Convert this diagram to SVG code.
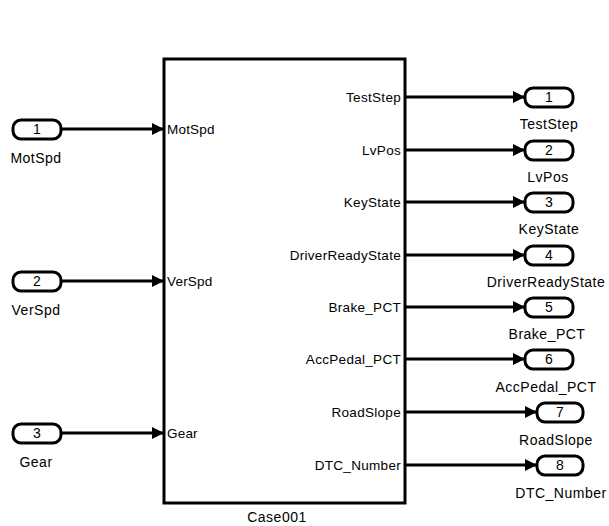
<svg xmlns="http://www.w3.org/2000/svg" width="609" height="526" viewBox="0 0 609 526">
<style>
text{font-family:"Liberation Sans",Arial,sans-serif;font-size:14px;fill:#000}
.port{fill:#fff;stroke:#000;stroke-width:3}
.blk{fill:#fff;stroke:#000;stroke-width:3}
.num{text-anchor:middle}
.lab{text-anchor:middle;letter-spacing:0.5px}
.in{text-anchor:start;font-size:13.5px;letter-spacing:0.2px}
.out{text-anchor:end;font-size:13.5px;letter-spacing:0.3px}
.wire{stroke:#000;stroke-width:3;fill:none}
</style>
<defs>
<marker id="ah" markerWidth="12" markerHeight="12" refX="11" refY="6" orient="auto" markerUnits="userSpaceOnUse">
<path d="M0,0 L12,6 L0,12 Z" fill="#000"/>
</marker>
</defs>
<rect width="609" height="526" fill="#fff"/>
<g id="connectors">
<line class="wire" x1="61" y1="129" x2="163" y2="129" marker-end="url(#ah)"/>
<line class="wire" x1="61" y1="281" x2="163" y2="281" marker-end="url(#ah)"/>
<line class="wire" x1="61" y1="433" x2="163" y2="433" marker-end="url(#ah)"/>
<line class="wire" x1="406" y1="97" x2="524" y2="97" marker-end="url(#ah)"/>
<line class="wire" x1="406" y1="150" x2="524" y2="150" marker-end="url(#ah)"/>
<line class="wire" x1="406" y1="202" x2="524" y2="202" marker-end="url(#ah)"/>
<line class="wire" x1="406" y1="255" x2="524" y2="255" marker-end="url(#ah)"/>
<line class="wire" x1="406" y1="307" x2="524" y2="307" marker-end="url(#ah)"/>
<line class="wire" x1="406" y1="359" x2="524" y2="359" marker-end="url(#ah)"/>
<line class="wire" x1="406" y1="412" x2="536" y2="412" marker-end="url(#ah)"/>
<line class="wire" x1="406" y1="465" x2="536" y2="465" marker-end="url(#ah)"/>
</g>
<g id="Case001">
<rect class="blk" x="164" y="59" width="241" height="444"/>
<text class="in" x="167" y="134">MotSpd</text>
<text class="in" x="167" y="286">VerSpd</text>
<text class="in" x="167" y="438">Gear</text>
<text class="out" x="401" y="102">TestStep</text>
<text class="out" x="401" y="155">LvPos</text>
<text class="out" x="401" y="207">KeyState</text>
<text class="out" x="401" y="260">DriverReadyState</text>
<text class="out" x="401" y="312">Brake_PCT</text>
<text class="out" x="401" y="364">AccPedal_PCT</text>
<text class="out" x="401" y="417">RoadSlope</text>
<text class="out" x="401" y="470">DTC_Number</text>
<text class="lab" x="277" y="522">Case001</text>
</g>
<g id="in1"><rect class="port" x="13" y="120" width="48" height="19" rx="8"/><text class="num" x="37" y="134">1</text><text class="lab" x="36" y="163">MotSpd</text></g>
<g id="in2"><rect class="port" x="13" y="272" width="48" height="19" rx="8"/><text class="num" x="37" y="286">2</text><text class="lab" x="36" y="315">VerSpd</text></g>
<g id="in3"><rect class="port" x="13" y="424" width="48" height="19" rx="8"/><text class="num" x="37" y="438">3</text><text class="lab" x="36" y="467">Gear</text></g>
<g id="out1"><rect class="port" x="525" y="88" width="48" height="19" rx="8"/><text class="num" x="549" y="102">1</text><text class="lab" x="549" y="129">TestStep</text></g>
<g id="out2"><rect class="port" x="525" y="141" width="48" height="19" rx="8"/><text class="num" x="549" y="155">2</text><text class="lab" x="548" y="182">LvPos</text></g>
<g id="out3"><rect class="port" x="525" y="193" width="48" height="19" rx="8"/><text class="num" x="549" y="207">3</text><text class="lab" x="549" y="234">KeyState</text></g>
<g id="out4"><rect class="port" x="525" y="246" width="48" height="19" rx="8"/><text class="num" x="549" y="260">4</text><text class="lab" x="546" y="287">DriverReadyState</text></g>
<g id="out5"><rect class="port" x="525" y="298" width="48" height="19" rx="8"/><text class="num" x="549" y="312">5</text><text class="lab" x="547" y="339">Brake_PCT</text></g>
<g id="out6"><rect class="port" x="525" y="350" width="48" height="19" rx="8"/><text class="num" x="549" y="364">6</text><text class="lab" x="546" y="392">AccPedal_PCT</text></g>
<g id="out7"><rect class="port" x="537" y="403" width="46" height="19" rx="8"/><text class="num" x="560" y="417">7</text><text class="lab" x="556" y="445">RoadSlope</text></g>
<g id="out8"><rect class="port" x="537" y="456" width="46" height="19" rx="8"/><text class="num" x="560" y="470">8</text><text class="lab" x="561" y="498">DTC_Number</text></g>
</svg>
